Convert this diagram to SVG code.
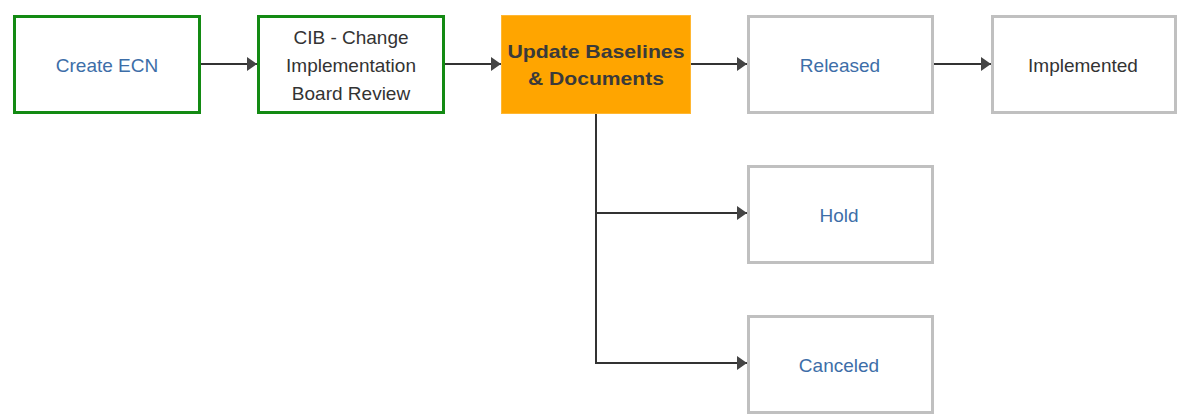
<svg xmlns="http://www.w3.org/2000/svg" width="1179" height="417" viewBox="0 0 1179 417">
<style>
  text { font-family: "Liberation Sans", Arial, sans-serif; font-size: 19px; text-anchor: middle; }
  .green { fill: #ffffff; stroke: #138a13; stroke-width: 3; }
  .gray { fill: #ffffff; stroke: #c0c0c0; stroke-width: 3; }
  .orange { fill: #ffa500; stroke: #ffb733; stroke-width: 1; }
  .blue { fill: #3d6ea8; }
  .dark { fill: #333333; }
  .bold { font-weight: bold; fill: #3a3a3a; }
  .conn { fill: none; stroke: #333333; stroke-width: 2; }
</style>
<defs>
  <marker id="arrow" markerUnits="userSpaceOnUse" markerWidth="12" markerHeight="14" refX="10" refY="7" orient="auto">
    <path d="M0,0 L10,7 L0,14 Z" fill="#444444"/>
  </marker>
</defs>
<rect width="1179" height="417" fill="#ffffff"/>
<g id="connectors">
  <line class="conn" x1="201" y1="64" x2="257" y2="64" marker-end="url(#arrow)"/>
  <line class="conn" x1="445" y1="64" x2="501" y2="64" marker-end="url(#arrow)"/>
  <line class="conn" x1="691" y1="64" x2="747" y2="64" marker-end="url(#arrow)"/>
  <line class="conn" x1="934" y1="64" x2="991" y2="64" marker-end="url(#arrow)"/>
  <line class="conn" x1="596" y1="114" x2="596" y2="364"/>
  <line class="conn" x1="595" y1="213" x2="747" y2="213" marker-end="url(#arrow)"/>
  <line class="conn" x1="595" y1="363" x2="747" y2="363" marker-end="url(#arrow)"/>
</g>
<g id="create-ecn">
  <rect class="green" x="14.5" y="16.5" width="185" height="96"/>
  <text class="blue" x="107" y="72">Create ECN</text>
</g>
<g id="cib-review">
  <rect class="green" x="258.5" y="16.5" width="185" height="96"/>
  <text class="dark" x="351" y="44">CIB - Change</text>
  <text class="dark" x="351" y="72">Implementation</text>
  <text class="dark" x="351" y="100">Board Review</text>
</g>
<g id="update-baselines">
  <rect class="orange" x="501.5" y="15.5" width="189" height="98"/>
  <text class="bold" x="596" y="58" textLength="177" lengthAdjust="spacingAndGlyphs">Update Baselines</text>
  <text class="bold" x="596" y="85" textLength="136" lengthAdjust="spacingAndGlyphs">&amp; Documents</text>
</g>
<g id="released">
  <rect class="gray" x="748.5" y="16.5" width="184" height="96"/>
  <text class="blue" x="840" y="72">Released</text>
</g>
<g id="implemented">
  <rect class="gray" x="992.5" y="16.5" width="183" height="96"/>
  <text class="dark" x="1083" y="72">Implemented</text>
</g>
<g id="hold">
  <rect class="gray" x="748.5" y="166.5" width="184" height="96"/>
  <text class="blue" x="839" y="222">Hold</text>
</g>
<g id="canceled">
  <rect class="gray" x="748.5" y="316.5" width="184" height="96"/>
  <text class="blue" x="839" y="372">Canceled</text>
</g>
</svg>
